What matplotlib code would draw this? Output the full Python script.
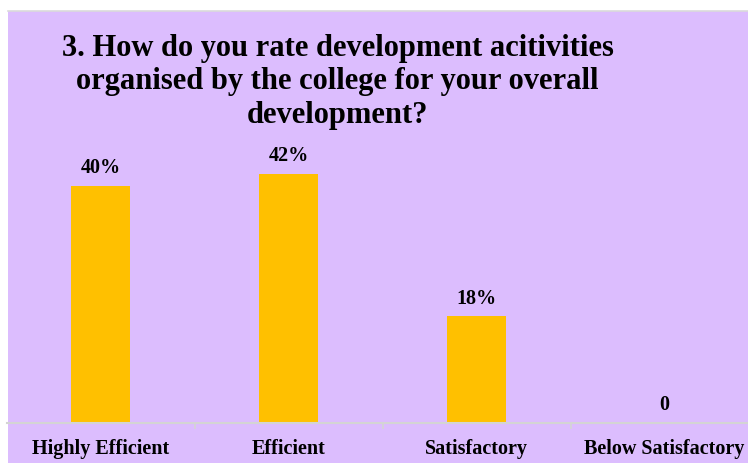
import matplotlib.pyplot as plt
from matplotlib.patches import Rectangle
from matplotlib.lines import Line2D

# data
categories = ["Highly Efficient", "Efficient", "Satisfactory", "Below Satisfactory"]
values = [40, 42, 18, 0]
value_labels = ["40%", "42%", "18%", "0"]
title_lines = [
    "3. How do you rate development acitivities",
    "organised by the college for your overall",
    "development?",
]

BG = "#DCBDFE"
BAR = "#FFC000"
AXIS = "#D4D4D4"
FONT = ["Liberation Serif", "DejaVu Serif"]

W, H = 748, 464
fig = plt.figure(figsize=(W / 100, H / 100), dpi=100)
fig.patch.set_facecolor("white")

# lavender chart area, with a thin grey top edge
fig.patches.append(Rectangle((8 / W, 0), 1, (H - 12) / H, transform=fig.transFigure,
                             facecolor=BG, edgecolor="none", zorder=-2))
fig.lines.append(Line2D([8 / W, 1], [(H - 11.5) / H] * 2, transform=fig.transFigure,
                        color="#DADADA", lw=1.2, zorder=-1))

ax = fig.add_axes([6.5 / W, 40 / H, 752 / W, 296 / H])
ax.set_facecolor("none")
ax.set_zorder(2)

x = range(len(categories))
bars = ax.bar(x, values, width=0.31, color=BAR, zorder=2)
ax.set_xlim(-0.5, len(categories) - 0.5)
ax.set_ylim(0, 50)

for xi, v, lab in zip(x, values, value_labels):
    ax.annotate(lab, (xi, v), xytext=(0, 10), textcoords="offset points",
                ha="center", va="baseline", fontsize=14.5, fontweight="bold",
                family=FONT)

for s in ["top", "right", "left"]:
    ax.spines[s].set_visible(False)
ax.spines["bottom"].set_color(AXIS)
ax.spines["bottom"].set_linewidth(1.5)
ax.set_yticks([])
ax.set_xticks(list(x))
ax.set_xticklabels(categories, fontsize=14.5, fontweight="bold", family=FONT)
ax.tick_params(axis="x", which="major", length=0, pad=11)
ax.set_xticks([0.5, 1.5, 2.5], minor=True)
ax.tick_params(axis="x", which="minor", length=4, color=AXIS, width=1.2)

# title, three centred lines
title_x = 337.5
title_y = [56, 88.5, 122.5]
for line, ty in zip(title_lines, title_y):
    fig.text(title_x / W, 1 - ty / H, line, ha="center", va="baseline", fontsize=22,
             fontweight="bold", family=FONT)

fig.savefig("out.png", dpi=100, facecolor=fig.get_facecolor())
